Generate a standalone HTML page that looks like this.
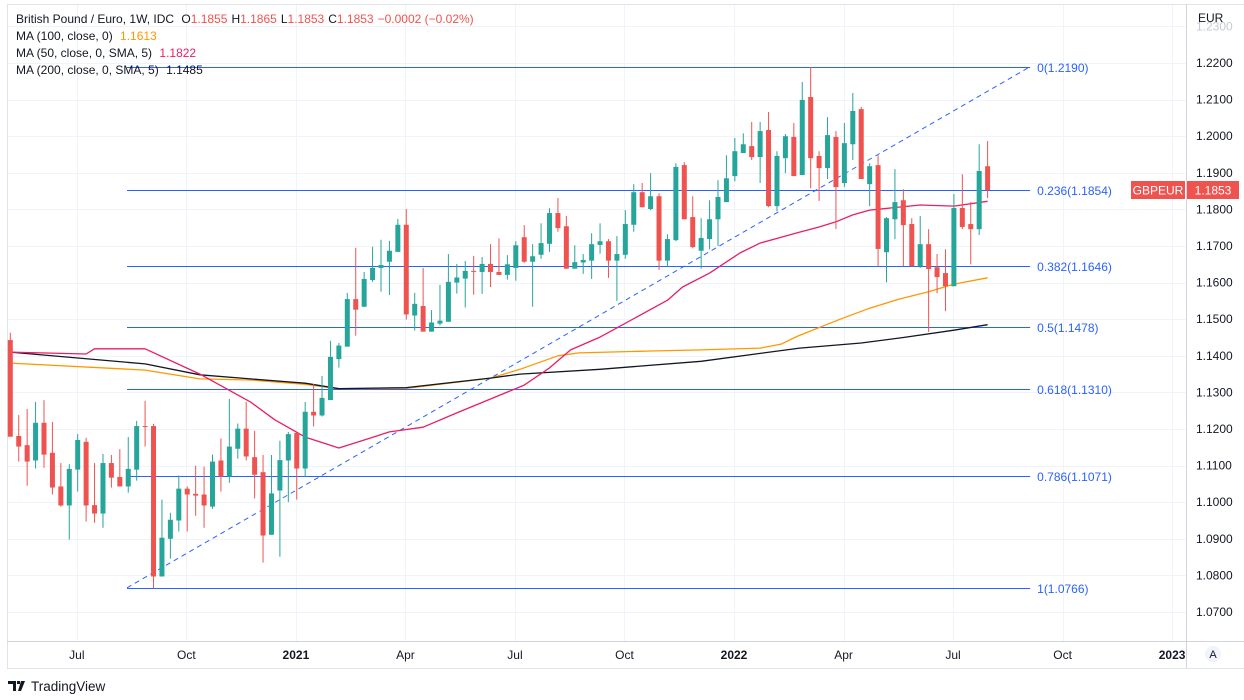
<!DOCTYPE html>
<html><head><meta charset="utf-8"><style>
html,body{margin:0;padding:0;background:#fff;}
svg{display:block;font-family:"Liberation Sans",sans-serif;}
</style></head><body>
<svg id="chart" width="1244" height="700" viewBox="0 0 1244 700">
<rect x="0" y="0" width="1244" height="700" fill="#fff"/>
<rect x="7.5" y="4.5" width="1240" height="664" fill="#fff" stroke="#e0e3eb"/>
<g id="grid"></g>
<g id="fib"></g>
<g id="mas"></g>
<g id="candles"></g>
<line x1="1186.5" y1="4" x2="1186.5" y2="668" stroke="#d1d4dc"/>
<line x1="7" y1="641.5" x2="1244" y2="641.5" stroke="#d1d4dc"/>
<g id="yaxis"></g>
<g id="xaxis"></g>
<text x="1198" y="22" font-size="12" fill="#131722">EUR</text>
<g>
<rect x="1131" y="181" width="54" height="18" fill="#ef5350"/>
<text x="1158" y="194.5" font-size="12" fill="#fff" text-anchor="middle">GBPEUR</text>
<rect x="1187" y="181" width="52" height="18" fill="#ef5350"/>
<text x="1213" y="194.5" font-size="12" fill="#fff" text-anchor="middle">1.1853</text>
</g>
<g font-size="12" fill="#131722">
<text x="16" y="23"><tspan>British Pound / Euro, 1W, IDC </tspan><tspan dx="4">O</tspan><tspan fill="#ef5350">1.1855</tspan><tspan dx="4">H</tspan><tspan fill="#ef5350">1.1865</tspan><tspan dx="4">L</tspan><tspan fill="#ef5350">1.1853</tspan><tspan dx="4">C</tspan><tspan fill="#ef5350">1.1853</tspan><tspan dx="4" fill="#ef5350">−0.0002 (−0.02%)</tspan></text>
<text x="16" y="40">MA (100, close, 0) <tspan dx="4" fill="#ff9800">1.1613</tspan></text>
<text x="16" y="57">MA (50, close, 0, SMA, 5) <tspan dx="4" fill="#e91e63">1.1822</tspan></text>
<text x="16" y="74">MA (200, close, 0, SMA, 5) <tspan dx="4" fill="#131722">1.1485</tspan></text>
</g>
<g>
<circle cx="1213" cy="654" r="8" fill="#f0f3fa"/>
<text x="1213" y="658" font-size="11" fill="#131722" text-anchor="middle">A</text>
</g>
<g>
<path d="M8 681h8v10h-3v-7h-5z M17 681h3v3h-3z M21 681h4l-4 10h-3z" fill="#131722"/>
<text x="31" y="691" font-size="13.5" fill="#131722">TradingView</text>
</g>
</svg>
<script>
const opens=[1.1443,1.1181,1.1156,1.1114,1.1217,1.1135,1.1043,1.0991,1.1089,1.1165,1.0992,1.0969,1.1107,1.1069,1.1043,1.1089,1.1208,1.1208,1.0797,1.0900,1.0950,1.1037,1.1023,1.1021,1.0988,1.1114,1.1070,1.1146,1.1201,1.1123,1.1082,1.0911,1.1032,1.1114,1.1189,1.1092,1.1247,1.1237,1.1279,1.1391,1.1425,1.1555,1.1534,1.1607,1.1640,1.1657,1.1684,1.1758,1.1510,1.1536,1.1466,1.1488,1.1493,1.1600,1.1611,1.1632,1.1629,1.1651,1.1629,1.1621,1.1640,1.1724,1.1657,1.1676,1.1706,1.1790,1.1754,1.1638,1.1655,1.1660,1.1703,1.1713,1.1660,1.1676,1.1758,1.1847,1.1801,1.1836,1.1660,1.1716,1.1921,1.1779,1.1687,1.1719,1.1773,1.1820,1.1891,1.1954,1.1973,1.1943,1.2017,1.1809,1.1940,1.1998,1.1894,1.2107,1.1946,1.1913,1.1998,1.1872,1.1978,1.2074,1.1869,1.1921,1.1683,1.1773,1.1825,1.1760,1.1645,1.1705,1.1642,1.1626,1.1590,1.1804,1.1760,1.1746,1.1918];
const highs=[1.1463,1.1238,1.1255,1.1274,1.1279,1.1219,1.1107,1.1104,1.1186,1.1176,1.1107,1.1132,1.1129,1.1145,1.1178,1.1222,1.1277,1.1214,1.1007,1.0971,1.1073,1.1043,1.1100,1.1097,1.1130,1.1174,1.1282,1.1215,1.1274,1.1195,1.1129,1.1129,1.1168,1.1192,1.1189,1.1274,1.1323,1.1345,1.1441,1.1435,1.1572,1.1695,1.1629,1.1698,1.1717,1.1714,1.1774,1.1801,1.1572,1.1640,1.1525,1.1594,1.1678,1.1651,1.1659,1.1673,1.1670,1.1705,1.1721,1.1675,1.1713,1.1757,1.1705,1.1762,1.1803,1.1831,1.1782,1.1702,1.1678,1.1735,1.1762,1.1719,1.1727,1.1798,1.1869,1.1872,1.1899,1.1844,1.1732,1.1926,1.1929,1.1836,1.1776,1.1825,1.1880,1.1948,1.1995,1.2008,1.2039,1.2039,1.2066,1.1959,1.2006,1.2036,1.2148,1.2189,1.1959,1.2052,1.2014,1.2036,1.2118,1.2080,1.1926,1.1948,1.1779,1.1910,1.1855,1.1776,1.1782,1.1746,1.1678,1.1691,1.1842,1.1896,1.1820,1.1978,1.1987];
const lows=[1.1179,1.1111,1.1045,1.1092,1.1094,1.1021,1.0988,1.0898,1.1029,1.0947,1.0944,1.0930,1.1040,1.1043,1.1026,1.1059,1.1152,1.0764,1.0797,1.0846,1.0920,1.0920,1.0963,1.0930,1.0982,1.1029,1.1053,1.1119,1.1114,1.1010,1.0835,1.0911,1.0851,1.1000,1.1007,1.1070,1.1207,1.1234,1.1279,1.1368,1.1425,1.1455,1.1534,1.1602,1.1575,1.1566,1.1684,1.1499,1.1469,1.1466,1.1466,1.1483,1.1493,1.1570,1.1532,1.1567,1.1569,1.1588,1.1621,1.1608,1.1605,1.1654,1.1534,1.1665,1.1684,1.1739,1.1638,1.1638,1.1624,1.1610,1.1679,1.1613,1.1550,1.1665,1.1739,1.1806,1.1798,1.1635,1.1643,1.1713,1.1773,1.1694,1.1638,1.1691,1.1700,1.1820,1.1877,1.1954,1.1935,1.1872,1.1806,1.1795,1.1899,1.1891,1.1894,1.1858,1.1823,1.1883,1.1746,1.1861,1.1935,1.1883,1.1809,1.1645,1.1601,1.1719,1.1645,1.1645,1.1640,1.1465,1.1571,1.1522,1.1590,1.1746,1.1650,1.1730,1.1831];
const closes=[1.1179,1.1152,1.1111,1.1217,1.1130,1.1040,1.0991,1.1091,1.1170,1.0991,1.0969,1.1107,1.1067,1.1043,1.1091,1.1208,1.1206,1.0797,1.0903,1.0952,1.1037,1.1021,1.1018,1.0991,1.1111,1.1070,1.1152,1.1201,1.1125,1.1075,1.0909,1.1024,1.1115,1.1186,1.1092,1.1247,1.1237,1.1285,1.1397,1.1428,1.1555,1.1526,1.1610,1.1640,1.1648,1.1687,1.1758,1.1513,1.1542,1.1466,1.1491,1.1496,1.1602,1.1614,1.1632,1.1630,1.1651,1.1629,1.1621,1.1650,1.1702,1.1657,1.1672,1.1708,1.1790,1.1749,1.1638,1.1656,1.1662,1.1705,1.1713,1.1660,1.1678,1.1760,1.1847,1.1806,1.1836,1.1660,1.1719,1.1916,1.1773,1.1697,1.1722,1.1773,1.1834,1.1885,1.1959,1.1978,1.1943,1.2014,1.1809,1.1946,1.2000,1.1891,1.2099,1.1940,1.1913,1.2003,1.1861,1.1981,1.2069,1.1883,1.1918,1.1692,1.1776,1.1820,1.1757,1.1645,1.1705,1.1637,1.1615,1.1590,1.1804,1.1752,1.1746,1.1905,1.1853];

const ma50Idx=[0,9,10,16,22.5,28.5,31.4,35,39,42,45,49,53,57,61,64,66.5,70,71.5,78,79.8,83,86.6,89,93.7,96,98,100,102,108,112,116];
const ma50Val=[1.1410,1.1405,1.1419,1.1419,1.1350,1.1274,1.1225,1.1178,1.1148,1.1170,1.1192,1.1205,1.1244,1.1282,1.1320,1.1367,1.1416,1.1451,1.1470,1.1552,1.1588,1.1626,1.1681,1.1708,1.1738,1.1752,1.1766,1.1785,1.1798,1.1812,1.1809,1.1822];
const ma100Idx=[0,16,22.5,28.5,35,39,47,57,60.5,65,67.5,76,82,89,91.5,93.5,98.5,102,105.5,109,112,116];
const ma100Val=[1.1380,1.1361,1.1337,1.1334,1.1322,1.1310,1.1311,1.1339,1.1363,1.1400,1.1408,1.1413,1.1416,1.1421,1.1432,1.1454,1.1500,1.1530,1.1555,1.1575,1.1596,1.1613];
const ma200Idx=[0,16,22.5,28.5,35,39,47,57,60.5,70,82,93.7,101,106,112,116];
const ma200Val=[1.1410,1.1378,1.1348,1.1337,1.1325,1.1310,1.1313,1.1339,1.1350,1.1363,1.1385,1.1421,1.1435,1.1450,1.1470,1.1485];

const fibLevels=["0","0.236","0.382","0.5","0.618","0.786","1"];
const fibPrices=[1.2190,1.1854,1.1646,1.1478,1.1310,1.1071,1.0766];
const fibStartIdx=13.85, fibEndIdx=121.05;

const yTicks=[1.07,1.08,1.09,1.10,1.11,1.12,1.13,1.14,1.15,1.16,1.17,1.18,1.19,1.20,1.21,1.22,1.23];
const xTickLabels=["Jul","Oct","2021","Apr","Jul","Oct","2022","Apr","Jul","Oct","2023"];
const xTickIdx=[7.9,20.9,33.9,46.9,59.9,72.9,85.9,98.9,111.9,124.9,137.9];

const NS="http://www.w3.org/2000/svg";
function X(i){return 10.3+8.425*i;}
function Y(p){return 63+(1.22-p)*3660;}
function mk(tag,attrs,parent){const e=document.createElementNS(NS,tag);for(const k in attrs)e.setAttribute(k,attrs[k]);parent.appendChild(e);return e;}

const grid=document.getElementById('grid');
yTicks.forEach(v=>{const y=Math.round(Y(v))+0.5;if(y<8||y>640)return;
 const l=mk('line',{x1:8,x2:1186,y1:y,y2:y,stroke:'#f0f3fa'},grid);
 
 });
xTickIdx.forEach(i=>{const x=Math.round(X(i))+0.5;if(x>1186)return;
 const l=mk('line',{x1:x,x2:x,y1:5,y2:641,stroke:'#f0f3fa'},grid);
 
 });

const ya=document.getElementById('yaxis');
yTicks.forEach(v=>{const y=Y(v);if(y>636)return;
 const t=mk('text',{x:1196,y:y+4,'font-size':12,fill:y<40?'#c8cad0':'#131722'},ya);
 t.textContent=v.toFixed(4);
 
 });
const xa=document.getElementById('xaxis');
xTickLabels.forEach((s,k)=>{const t=mk('text',{x:X(xTickIdx[k]),y:659,'font-size':12,fill:'#131722','text-anchor':'middle','font-weight':/^20/.test(s)?'bold':'normal'},xa);
 t.textContent=s;
 
 });

const fib=document.getElementById('fib');
fibPrices.forEach((p,k)=>{const y=Math.round(Y(p))+0.5;
 const l=mk('line',{x1:X(fibStartIdx),x2:X(fibEndIdx),y1:y,y2:y,stroke:'#2962ff','stroke-width':1},fib);
 
 
 const t=mk('text',{x:X(fibEndIdx)+7,y:y+4.5,'font-size':12,fill:'#2962ff'},fib);
 t.textContent=fibLevels[k]+'('+p.toFixed(4)+')';
 
 });
const diag=mk('line',{x1:X(fibStartIdx),y1:Y(fibPrices[6]),x2:X(fibEndIdx),y2:Y(fibPrices[0]),stroke:'#2962ff','stroke-dasharray':'5 4'},fib);



const mas=document.getElementById('mas');
function maLine(idx,val,color,name){const d=idx.map((i,k)=>(k?'L':'M')+X(i).toFixed(1)+' '+Y(val[k]).toFixed(1)).join(' ');
 const p=mk('path',{d:d,fill:'none',stroke:color,'stroke-width':1.3,'stroke-linejoin':'round'},mas);
 
 }
maLine(ma100Idx,ma100Val,'#ff9800','ma100-line');
maLine(ma200Idx,ma200Val,'#131722','ma200-line');
maLine(ma50Idx,ma50Val,'#e91e63','ma50-line');

const cg=document.getElementById('candles');
opens.forEach((o,i)=>{const c=closes[i],up=c>=o,col=up?'#26a69a':'#ef5350',x=X(i);
 const g=mk('g',{},cg);
 
 
 mk('line',{x1:x,x2:x,y1:Y(highs[i]),y2:Y(lows[i]),stroke:col,'stroke-width':1},g);
 const top=Y(Math.max(o,c)),bot=Y(Math.min(o,c));
 mk('rect',{x:x-2.5,y:top,width:5,height:Math.max(1,bot-top),fill:col},g);});
</script>
</body></html>
